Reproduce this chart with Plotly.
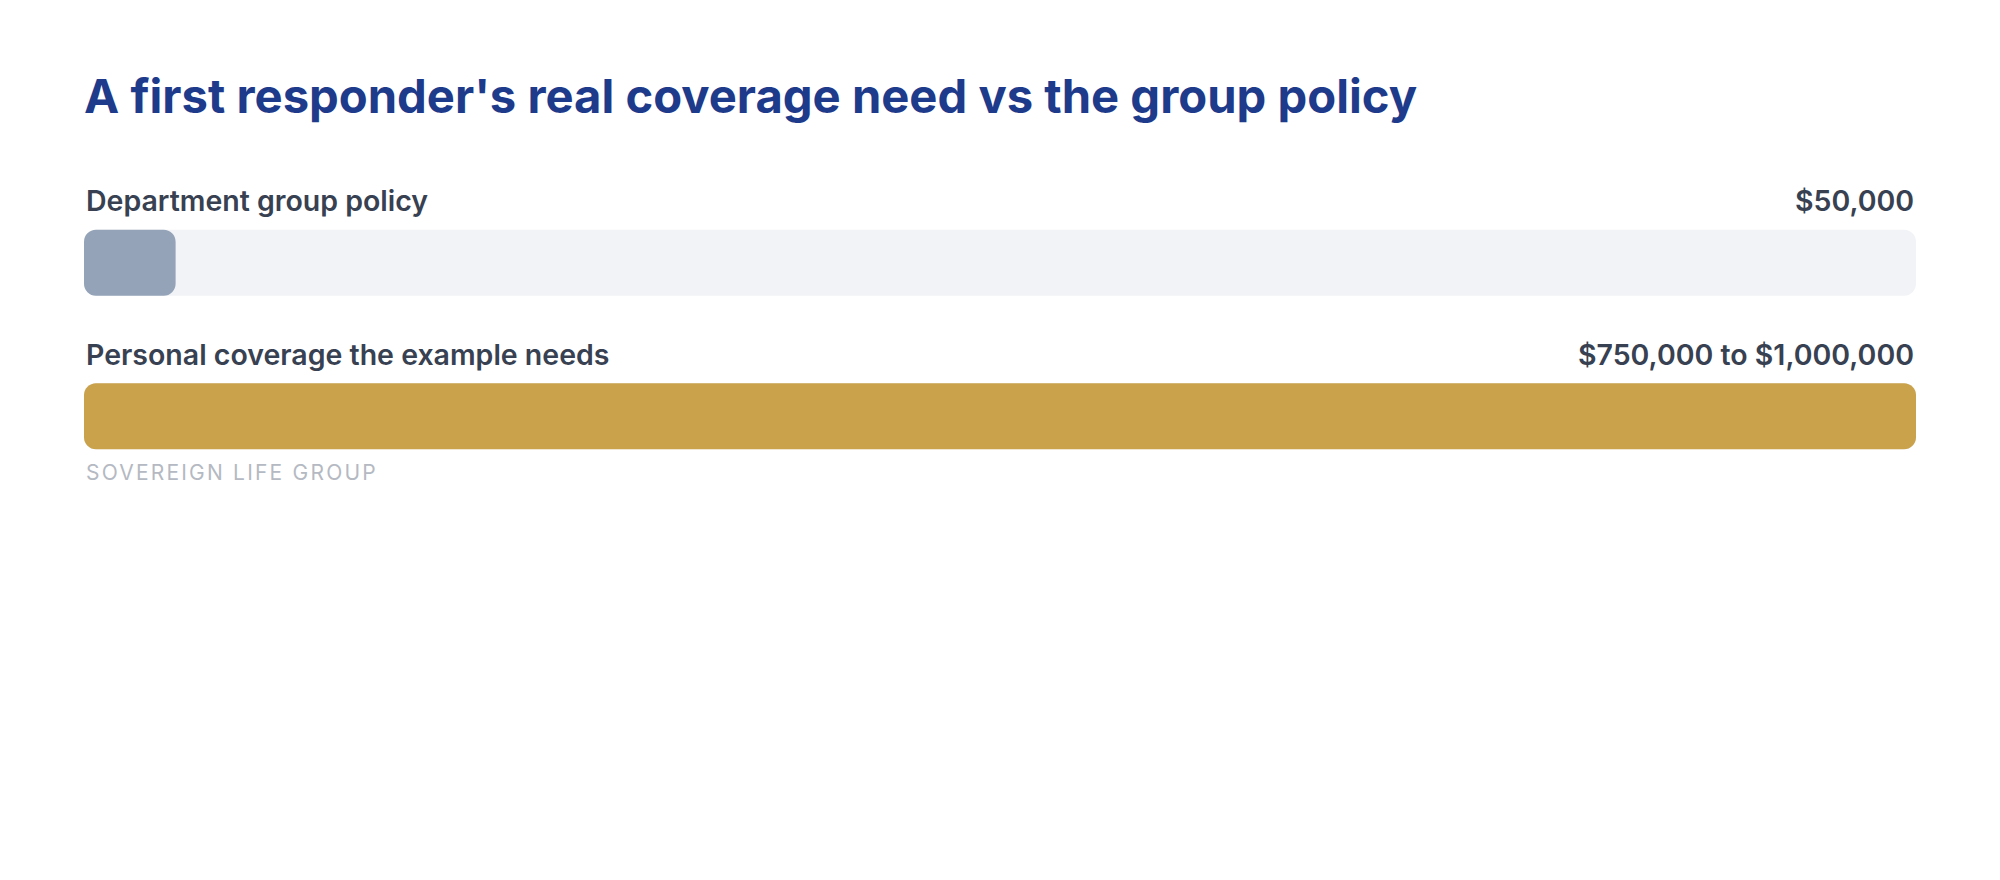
import plotly.graph_objects as go

# coverage rows, top to bottom
labels = ["Department group policy", "Personal coverage the example needs"]
value_text = ["$50,000", "$750,000 to $1,000,000"]
values = [50000, 1000000]
scale_max = 1000000
colors = ["#94a3b8", "#c9a24b"]

rows = [0, 1]

fig = go.Figure()

# setting base explicitly makes plotly round both ends of the bar
# light grey track behind each bar
fig.add_trace(go.Bar(
    x=[scale_max] * len(rows),
    base=[0] * len(rows),
    y=rows,
    orientation="h",
    marker=dict(color="#f1f3f6", line=dict(width=0)),
    hoverinfo="skip",
    showlegend=False,
))

fig.add_trace(go.Bar(
    x=values,
    base=[0] * len(rows),
    y=rows,
    orientation="h",
    marker=dict(color=colors, line=dict(width=0)),
    hoverinfo="skip",
    showlegend=False,
))

for i in rows:
    fig.add_annotation(
        x=0, xref="paper", y=i, yref="y", yshift=62,
        text=labels[i], showarrow=False, xanchor="left", yanchor="middle",
        font=dict(family="Inter", size=28.5, color="#374151", weight=600),
    )
    fig.add_annotation(
        x=1, xref="paper", y=i, yref="y", yshift=62,
        text=value_text[i], showarrow=False, xanchor="right", yanchor="middle",
        font=dict(family="Inter", size=28.5, color="#374151", weight=600),
    )

fig.add_annotation(
    x=0, xref="paper", y=1, yref="y", yshift=-56,
    text='<span style="letter-spacing:2.2px">SOVEREIGN LIFE GROUP</span>',
    showarrow=False, xanchor="left", yanchor="middle",
    font=dict(family="Inter", size=21, color="#b4b9c2"),
)

fig.update_layout(
    width=2000,
    height=880,
    title=dict(
        text="A first responder's real coverage need vs the group policy",
        x=76 / 2000, xref="container", xanchor="left",
        y=1 - 88 / 880, yref="container", yanchor="middle",
        font=dict(family="Inter", size=47.2, color="#1e3a8a", weight=700),
    ),
    barmode="overlay",
    barcornerradius=12,
    bargap=0.57,
    margin=dict(l=76, r=92, t=178, b=395, pad=0),
    paper_bgcolor="white",
    plot_bgcolor="white",
    xaxis=dict(range=[0, scale_max], visible=False, fixedrange=True),
    yaxis=dict(range=[1.5, -0.5], visible=False, fixedrange=True),
)

fig.write_html("out.html")
